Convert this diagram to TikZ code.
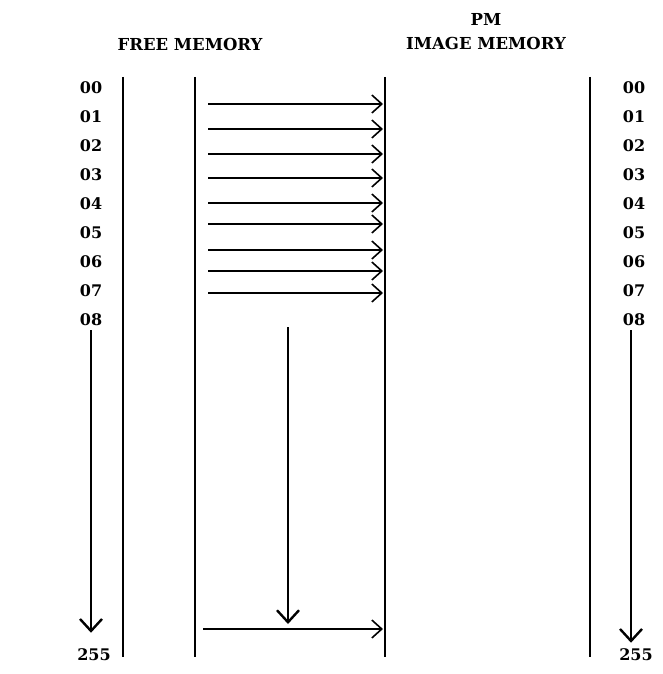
\documentclass[tikz,border=0pt]{standalone}
\usepackage{fontspec}
\setmainfont{DejaVu Serif}
\usetikzlibrary{arrows.meta,positioning,calc}
\tikzset{
  addr/.style={inner sep=0pt,font=\bfseries\fontsize{16}{18}\selectfont},
  head/.style={inner sep=0pt,align=center,font=\bfseries\fontsize{16.5}{24}\selectfont},
  wall/.style={line width=1.4pt},
  copy/.style={-{Straight Barb[length=10pt,width=18pt,line width=1.6pt]},line width=1.6pt},
  run/.style={-{Straight Barb[length=12pt,width=22pt,line width=2.4pt]},line width=2.8pt},
}

\begin{document}
\begin{tikzpicture}[x=1pt,y=-1pt]
  \useasboundingbox (0,0) rectangle (663,674);
  % headings
  \node[head] (free) at (190,44) {FREE MEMORY};
  \node[head] (pm) at (486,32) {PM\\IMAGE MEMORY};
  % address columns
  \foreach \i in {0,...,8} {
    \node[addr] (l0\i) at (91,88+29*\i) {0\i};
    \node[addr] (r0\i) at (634,88+29*\i) {0\i};
  }
  \node[addr] (l255) at (94,655) {255};
  \node[addr] (r255) at (636,655) {255};
  % memory walls
  \foreach \n/\x in {a/123,b/195,c/385,d/590} {
    \coordinate (\n top) at (\x,77);
    \coordinate (\n bot) at (\x,657);
    \draw[wall] (\n top) -- (\n bot);
  }
  % word copies
  \foreach \y [count=\i] in {104,129,154,178,203,224,250,271,293} {
    \coordinate (src\i) at (208,\y);
    \coordinate (dst\i) at (383,\y);
    \draw[copy] (src\i) -- (dst\i);
  }
  \coordinate (gotop) at (288,327);
  \coordinate (gobot) at (288,624);
  \draw[run,line width=2.2pt] (gotop) -- (gobot);
  \coordinate (srcn) at (203,629);
  \coordinate (dstn) at (383,629);
  \draw[copy] (srcn) -- (dstn);
  % run down to the last address
  \draw[run] ($(l08.south)+(0,4)$) -- ($(l08.south |- l255.north)+(0,-16)$);
  \draw[run] ($(r08.south)+(-3,4)$) -- ($(r08.south |- r255.north)+(-3,-6)$);
\end{tikzpicture}
\end{document}
